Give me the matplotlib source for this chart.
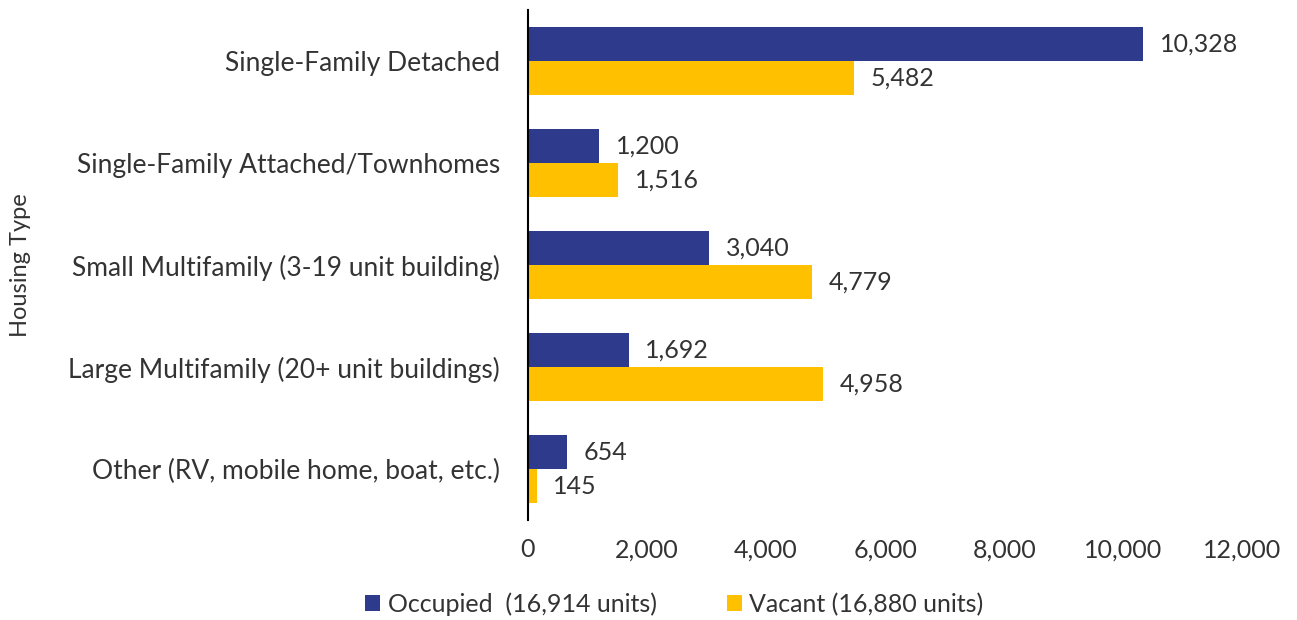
import matplotlib.pyplot as plt
import numpy as np

plt.rcParams['font.family'] = ['Lato', 'DejaVu Sans']

categories = [
    'Single-Family Detached',
    'Single-Family Attached/Townhomes',
    'Small Multifamily (3-19 unit building)',
    'Large Multifamily (20+ unit buildings)',
    'Other (RV, mobile home, boat, etc.)',
]
occupied = [10328, 1200, 3040, 1692, 654]
vacant = [5482, 1516, 4779, 4958, 145]
series_names = ['Occupied  (16,914 units)', 'Vacant (16,880 units)']
x_ticks = [0, 2000, 4000, 6000, 8000, 10000, 12000]

navy = '#2E3A8C'
gold = '#FFC000'
text_color = '#333333'

fig = plt.figure(figsize=(12.97, 6.2), dpi=100)
ax = fig.add_axes([0.407, 0.161, 0.551, 0.823])

y = np.arange(len(categories))
h = 0.335
b1 = ax.barh(y - h / 2, occupied, height=h, color=navy, label=series_names[0])
b2 = ax.barh(y + h / 2, vacant, height=h, color=gold, label=series_names[1])

for bars, vals in ((b1, occupied), (b2, vacant)):
    for bar, v in zip(bars, vals):
        ax.annotate('{:,}'.format(v),
                    (bar.get_width(), bar.get_y() + bar.get_height() / 2),
                    xytext=(12, 0), textcoords='offset points',
                    ha='left', va='center', fontsize=18, color=text_color)

ax.set_ylim(len(categories) - 0.5, -0.5)
ax.set_xlim(0, 12000)
ax.set_yticks(y)
ax.set_yticklabels(categories, fontsize=19, color=text_color)
ax.set_xticks(x_ticks)
ax.set_xticklabels(['{:,}'.format(t) for t in x_ticks], fontsize=18,
                   color=text_color)
ax.tick_params(axis='y', length=0, pad=20)
ax.tick_params(axis='x', length=0, pad=13)

for side in ('top', 'right', 'bottom'):
    ax.spines[side].set_visible(False)
ax.spines['left'].set_color('black')
ax.spines['left'].set_linewidth(1.5)

fig.text(0.016, 0.161 + 0.823 / 2, 'Housing Type', rotation=90, ha='center',
         va='center', fontsize=17, color=text_color)

ax.legend(loc='lower center', bbox_to_anchor=(0.52, -0.03),
          bbox_transform=fig.transFigure, ncol=2, frameon=False,
          fontsize=18, handlelength=0.6, handleheight=0.6,
          columnspacing=2.8, handletextpad=0.3, labelcolor=text_color)

fig.savefig('out.png', dpi=100)
